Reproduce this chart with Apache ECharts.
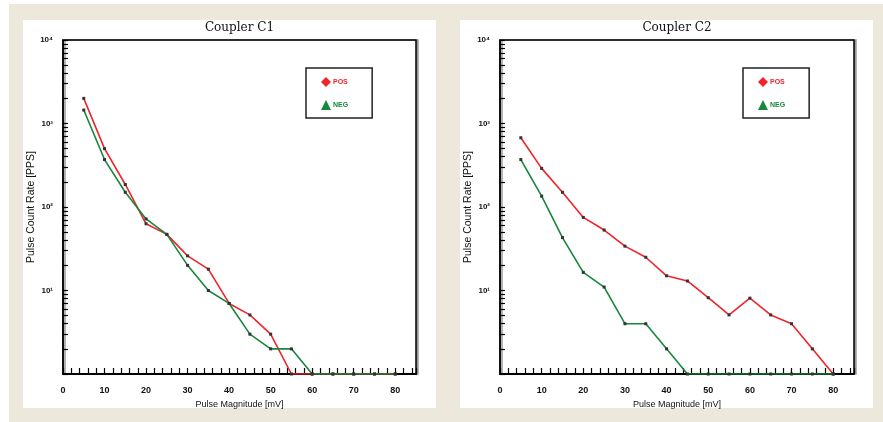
<!DOCTYPE html>
<html>
<head>
<meta charset="utf-8">
<script src="https://cdn.jsdelivr.net/npm/echarts@6/dist/echarts.min.js"></script>
<style>
html, body { margin: 0; padding: 0; width: 883px; height: 422px; background: #fff; overflow: hidden; }
.beige { position: absolute; left: 9px; top: 4px; width: 874px; height: 418px; background: #ede8dc; }
.panel { position: absolute; top: 20px; width: 413px; height: 388px; background: #fff; }
#chart { position: absolute; left: 0; top: 0; width: 883px; height: 422px; }
</style>
</head>
<body>
<div class="beige"></div>
<div class="panel" style="left:23px"></div>
<div class="panel" style="left:460px"></div>
<div id="chart"></div>
<script>
// pulse magnitude [mV]
const pulseMv = [5, 10, 15, 20, 25, 30, 35, 40, 45, 50, 55, 60, 65, 70, 75, 80];
// pulse count rate [PPS]
const c1Pos = [2000, 500, 186, 63, 47, 26, 18, 7, 5.1, 3, 1, 1, 1, 1, 1, 1];
const c1Neg = [1450, 370, 150, 72, 47, 20, 10, 7, 3, 2, 2, 1, 1, 1, 1, 1];
const c2Pos = [675, 290, 150, 75, 53, 34, 25, 15, 13, 8.2, 5.1, 8.1, 5.1, 4, 2, 1];
const c2Neg = [370, 135, 43, 16.5, 11, 4, 4, 2, 1, 1, 1, 1, 1, 1, 1, 1];
const panelTitles = ["Coupler C1", "Coupler C2"];
// log axis ticks: decades get a label, 2..9 of each decade get a tick only
const yLabelValues = [10, 100, 1000, 10000];
const yTickLabels = { 10: "10\u00b9", 100: "10\u00b2", 1000: "10\u00b3", 10000: "10\u2074" };
const yTickValues = [];
[1, 10, 100, 1000].forEach(d => {
  [1, 2, 3, 4, 5, 6, 7, 8, 9].forEach(m => yTickValues.push(d * m));
});
yTickValues.push(10000);

const RED = "#f0242a";
const GREEN = "#17873c";

let myChart = echarts.init(document.getElementById("chart"));

const grids = [
  { left: 63, top: 40, width: 353, height: 334 },
  { left: 500, top: 40, width: 354, height: 334 }
];

function pairs(ys) {
  return pulseMv.map((x, i) => [x, ys[i]]);
}

function xAxisOf(i) {
  return {
    type: "value", gridIndex: i, min: 0, max: 85, interval: 10,
    name: "Pulse Magnitude [mV]", nameLocation: "middle", nameGap: 24,
    nameTextStyle: { fontSize: 9, color: "#111", fontFamily: "Liberation Sans" },
    axisLine: { lineStyle: { color: "#000", width: 2 } },
    axisTick: { inside: true, length: 6, lineStyle: { color: "#000", width: 1.2 } },
    minorTick: { show: true, splitNumber: 5, length: 6, lineStyle: { color: "#000", width: 1.2 } },
    axisLabel: {
      fontSize: 9, fontWeight: "bold", color: "#111", margin: 12, showMaxLabel: false,
      fontFamily: "Liberation Sans",
      formatter: v => (v % 10 === 0 ? String(v) : "")
    },
    splitLine: { show: false }
  };
}

function yAxisOf(i) {
  return {
    type: "log", gridIndex: i, min: 1, max: 10000, logBase: 10,
    name: "Pulse Count Rate [PPS]", nameLocation: "middle", nameGap: 25,
    nameTextStyle: { fontSize: 10.5, color: "#111", fontFamily: "Liberation Sans" },
    axisLine: { lineStyle: { color: "#000", width: 1.5 } },
    axisTick: { inside: true, length: 5, customValues: yTickValues, lineStyle: { color: "#000", width: 1.2 } },
    axisLabel: {
      fontSize: 8, fontWeight: "bold", color: "#111", margin: 10,
      fontFamily: "Liberation Sans", customValues: yLabelValues,
      formatter: v => yTickLabels[Math.round(v)] || ""
    },
    splitLine: { show: false }
  };
}

function lineSeries(name, color, ys, i) {
  return {
    name: name, type: "line", xAxisIndex: i, yAxisIndex: i,
    data: pairs(ys),
    symbol: "rect", symbolSize: 3, showSymbol: true,
    lineStyle: { color: color, width: 1.6 },
    itemStyle: { color: "#333" },
    color: color,
    emphasis: { disabled: true },
    z: name === "NEG" ? 3 : 2
  };
}

function legendOf(i) {
  return {
    left: i === 0 ? 306 : 743, top: 68,
    orient: "vertical", selectedMode: false,
    borderColor: "#222", borderWidth: 1.5, backgroundColor: "#fff",
    padding: [9, 24, 8, 15], itemGap: 13, itemWidth: 10, itemHeight: 10,
    textStyle: { fontSize: 7, fontWeight: "bold", fontFamily: "Liberation Sans", padding: [0, 0, 8, -3] },
    data: [
      { name: "POS", icon: "diamond", itemStyle: { color: RED }, textStyle: { color: RED } },
      { name: "NEG", icon: "triangle", itemStyle: { color: GREEN }, textStyle: { color: GREEN } }
    ]
  };
}

myChart.setOption({
  animation: false,
  grid: grids.map(g => Object.assign({
    show: true, borderColor: "#000", borderWidth: 1.5, backgroundColor: "#fff",
    shadowColor: "#9a9a9a", shadowOffsetX: 2, shadowOffsetY: 0, shadowBlur: 0
  }, g)),
  graphic: panelTitles.map((t, i) => ({
    type: "text",
    x: grids[i].left + grids[i].width / 2, y: 28,
    style: {
      text: t, align: "center", verticalAlign: "middle",
      font: "12px 'DejaVu Serif'", fill: "#111"
    }
  })),
  legend: [legendOf(0), legendOf(1)],
  xAxis: [xAxisOf(0), xAxisOf(1)],
  yAxis: [yAxisOf(0), yAxisOf(1)],
  series: [
    lineSeries("POS", RED, c1Pos, 0),
    lineSeries("NEG", GREEN, c1Neg, 0),
    lineSeries("POS", RED, c2Pos, 1),
    lineSeries("NEG", GREEN, c2Neg, 1)
  ]
});
</script>
</body>
</html>
